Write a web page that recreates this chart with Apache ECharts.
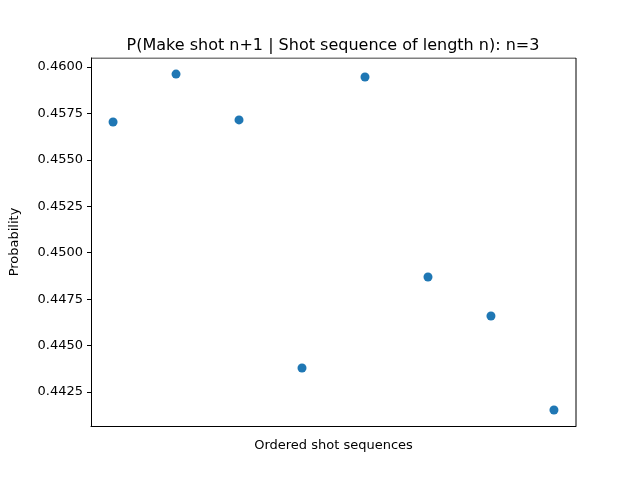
<!DOCTYPE html>
<html>
<head>
<meta charset="UTF-8">
<script src="https://cdn.jsdelivr.net/npm/echarts@6/dist/echarts.min.js"></script>
<style>html,body{margin:0;padding:0;background:#fff}#main{width:640px;height:480px}</style>
</head>
<body>
<div id="main"></div>
<script>
	// 数据
	let xIndex = [0, 1, 2, 3, 4, 5, 6, 7];
	let probs = [0.45704, 0.45962, 0.45715, 0.44379, 0.45946, 0.44869, 0.44659, 0.44153];
	let yTicks = [0.4425, 0.4450, 0.4475, 0.4500, 0.4525, 0.4550, 0.4575, 0.4600];

	let myChart = echarts.init(document.getElementById('main'));
	myChart.setOption({
		animation: false,
		title: {
			text: 'P(Make shot n+1 | Shot sequence of length n): n=3',
			left: 328, top: 33, textAlign: 'center',
			textStyle: {fontFamily: 'DejaVu Sans', fontSize: 16, fontWeight: 'normal', color: '#000'}
		},
		grid: {left: 81, right: 64, top: 58, bottom: 54},
		xAxis: {
			type: 'value', min: -0.35, max: 7.35,
			name: 'Ordered shot sequences', nameLocation: 'middle', nameGap: 13,
			nameTextStyle: {fontFamily: 'DejaVu Sans', fontSize: 13, color: '#000'},
			axisLine: {show: true, onZero: false, lineStyle: {color: '#000'}},
			axisTick: {show: false}, axisLabel: {show: false}, splitLine: {show: false}
		},
		yAxis: {
			type: 'value', min: 0.44067, max: 0.460485,
			name: 'Probability', nameLocation: 'middle', nameGap: 70,
			nameTextStyle: {fontFamily: 'DejaVu Sans', fontSize: 13, color: '#000'},
			axisLine: {show: true, onZero: false, lineStyle: {color: '#000'}},
			axisTick: {show: true, customValues: yTicks, length: 4, lineStyle: {color: '#000'}},
			axisLabel: {customValues: yTicks, formatter: v => v.toFixed(4),
				fontFamily: 'DejaVu Sans', fontSize: 13, color: '#000'},
			splitLine: {show: false}
		},
		series: [{
			type: 'scatter', symbolSize: 9,
			itemStyle: {color: '#1f77b4', opacity: 1},
			data: xIndex.map((x, i) => [x, probs[i]])
		}, {
			// 上、右边框
			type: 'line', silent: true, symbol: 'none',
			lineStyle: {color: '#000', width: 1},
			data: [[-0.35, 0.460485], [7.35, 0.460485], [7.35, 0.44067]]
		}]
	});
</script>
</body>
</html>
